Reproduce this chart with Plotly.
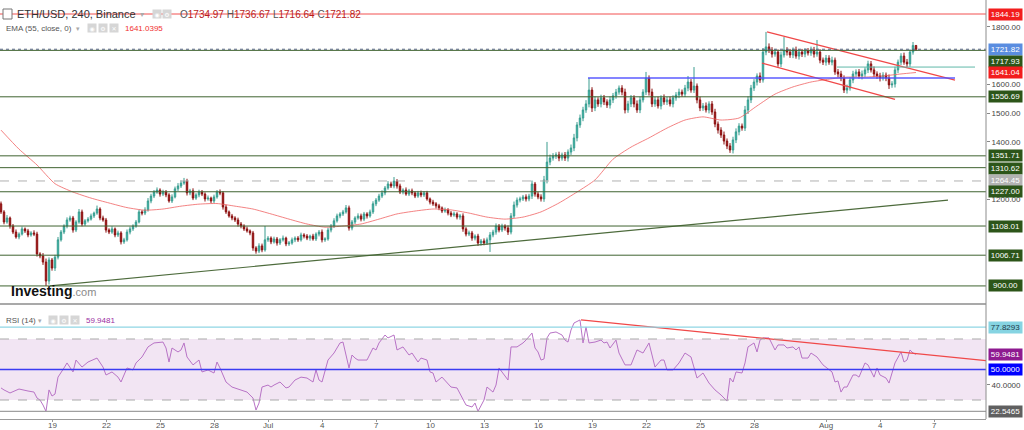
import pandas as pd
import plotly.graph_objects as go

# ---------------- data ----------------
candle_start = "2022-06-16 04:00"   # 4h candles
first_open = 1185.0
closes = [
    1157, 1122, 1136, 1108, 1087, 1070, 1080, 1098, 1091, 1077,
    1084, 1080, 1011, 1004, 983, 917, 990, 962, 1000, 1060,
    1087, 1108, 1129, 1136, 1094, 1122, 1157, 1115, 1126, 1132,
    1143, 1153, 1167, 1136, 1129, 1094, 1087, 1098, 1077, 1084,
    1053, 1060, 1087, 1098, 1108, 1122, 1157, 1153, 1164, 1195,
    1212, 1226, 1233, 1219, 1226, 1216, 1195, 1209, 1237, 1247,
    1257, 1264, 1223, 1230, 1205, 1216, 1226, 1219, 1202, 1205,
    1195, 1209, 1226, 1223, 1174, 1157, 1143, 1136, 1129, 1115,
    1108, 1098, 1091, 1084, 1032, 1021, 1039, 1025, 1060, 1066,
    1053, 1063, 1049, 1060, 1066, 1046, 1049, 1060, 1066, 1060,
    1077, 1073, 1066, 1073, 1063, 1080, 1087, 1060, 1063, 1094,
    1108, 1126, 1143, 1150, 1157, 1171, 1101, 1122, 1136, 1143,
    1132, 1150, 1143, 1157, 1185, 1198, 1212, 1223, 1240, 1254,
    1247, 1264, 1247, 1226, 1233, 1219, 1230, 1223, 1212, 1223,
    1216, 1223, 1202, 1191, 1185, 1178, 1171, 1160, 1164, 1153,
    1146, 1150, 1139, 1143, 1098, 1080, 1084, 1066, 1073, 1049,
    1056, 1049, 1060, 1077, 1087, 1108, 1094, 1108, 1101, 1087,
    1143, 1181, 1198, 1202, 1209, 1202, 1212, 1254, 1219, 1209,
    1202, 1268, 1330, 1344, 1351, 1355, 1344, 1355, 1344, 1365,
    1379, 1414, 1459, 1483, 1511, 1532, 1580, 1518, 1546, 1532,
    1553, 1539, 1528, 1546, 1560, 1573, 1587, 1573, 1511, 1532,
    1553, 1532, 1511, 1546, 1573, 1622, 1573, 1532, 1546, 1525,
    1553, 1539, 1546, 1532, 1553, 1563, 1573, 1566, 1587, 1608,
    1580, 1594, 1546, 1518, 1525, 1511, 1532, 1504, 1462, 1441,
    1424, 1403, 1386, 1372, 1407, 1435, 1455, 1448, 1511, 1546,
    1587, 1608, 1629, 1615, 1712, 1730, 1719, 1705, 1712, 1671,
    1702, 1719, 1712, 1702, 1719, 1698, 1712, 1705, 1716, 1709,
    1719, 1705, 1712, 1684, 1677, 1691, 1677, 1684, 1643, 1636,
    1622, 1580, 1587, 1615, 1636, 1643, 1629, 1636, 1650, 1671,
    1650, 1636, 1629, 1622, 1632, 1622, 1598, 1601, 1650, 1677,
    1698, 1677, 1671, 1712, 1734.97, 1721.82,
]
upper_wick = [
    8, 6, 10, 5, 7, 9, 6, 8, 5, 7,
    6, 9, 8, 6, 10, 12, 9, 7, 8, 10,
    7, 6, 9, 8, 7, 6, 10, 8, 6, 7,
    8, 5, 12, 6, 8, 7, 6, 9, 5, 8,
    6, 7, 9, 8, 6, 7, 8, 6, 9, 10,
    8, 7, 9, 6, 8, 7, 6, 9, 8, 10,
    9, 11, 8, 7, 9, 6, 8, 7, 6, 9,
    5, 8, 7, 9, 6, 8, 5, 7, 6, 8,
    7, 6, 8, 5, 7, 6, 9, 8, 48, 7,
    6, 8, 7, 6, 9, 5, 7, 8, 6, 7,
    8, 6, 7, 5, 8, 6, 7, 9, 6, 8,
    7, 9, 8, 6, 7, 10, 8, 7, 6, 9,
    8, 7, 6, 8, 9, 7, 8, 9, 7, 10,
    8, 14, 7, 8, 6, 9, 7, 8, 6, 7,
    8, 6, 7, 5, 8, 6, 7, 5, 8, 6,
    7, 8, 6, 7, 9, 6, 8, 7, 6, 8,
    7, 9, 8, 10, 8, 9, 7, 8, 6, 9,
    10, 12, 9, 8, 7, 9, 8, 12, 7, 8,
    9, 14, 70, 12, 10, 9, 11, 8, 10, 9,
    12, 14, 10, 12, 11, 13, 42, 10, 12, 9,
    11, 10, 9, 12, 10, 11, 9, 10, 12, 11,
    10, 9, 12, 11, 10, 21, 9, 12, 10, 11,
    9, 12, 10, 11, 9, 10, 12, 9, 11, 21,
    10, 66, 9, 11, 10, 12, 9, 10, 11, 9,
    10, 12, 9, 10, 11, 12, 10, 9, 14, 12,
    11, 10, 9, 12, 14, 52, 12, 10, 11, 9,
    12, 45, 10, 11, 9, 12, 10, 11, 9, 10,
    12, 11, 42, 10, 9, 11, 10, 12, 9, 10,
    11, 9, 12, 10, 11, 9, 10, 12, 9, 11,
    10, 12, 9, 11, 10, 9, 12, 10, 11, 9,
    10, 12, 11, 9, 12, 1.70,
]
lower_wick = [
    7, 8, 6, 9, 7, 6, 8, 5, 7, 8,
    6, 7, 9, 8, 10, 17, 12, 9, 10, 8,
    6, 7, 8, 6, 9, 7, 6, 8, 7, 6,
    5, 7, 6, 8, 6, 9, 7, 6, 8, 7,
    9, 7, 6, 8, 7, 6, 5, 8, 7, 6,
    8, 7, 6, 9, 7, 8, 6, 7, 5, 8,
    7, 6, 9, 8, 7, 6, 8, 7, 9, 6,
    8, 7, 6, 8, 9, 7, 6, 8, 7, 9,
    8, 7, 6, 8, 10, 9, 7, 8, 6, 7,
    8, 6, 9, 7, 6, 8, 7, 6, 8, 7,
    6, 8, 7, 9, 6, 7, 8, 9, 7, 6,
    8, 7, 6, 8, 7, 6, 9, 8, 7, 6,
    8, 7, 9, 6, 7, 8, 6, 7, 8, 6,
    7, 8, 9, 7, 8, 6, 7, 8, 7, 6,
    8, 7, 6, 8, 7, 9, 8, 7, 6, 8,
    7, 6, 8, 9, 10, 8, 7, 9, 8, 10,
    9, 8, 7, 42, 8, 9, 8, 7, 9, 10,
    8, 7, 9, 8, 7, 9, 8, 10, 9, 8,
    9, 10, 12, 11, 9, 10, 11, 9, 10, 12,
    10, 11, 12, 10, 11, 10, 12, 14, 11, 10,
    12, 11, 10, 12, 11, 10, 9, 11, 12, 10,
    11, 12, 10, 11, 9, 10, 12, 11, 10, 9,
    12, 10, 11, 9, 12, 10, 11, 9, 10, 11,
    9, 10, 12, 11, 10, 9, 12, 10, 11, 12,
    10, 12, 11, 10, 12, 11, 12, 9, 10, 14,
    11, 10, 12, 10, 9, 11, 10, 12, 9, 10,
    11, 9, 12, 10, 11, 9, 12, 10, 11, 9,
    10, 12, 9, 11, 10, 12, 9, 11, 10, 12,
    11, 10, 12, 9, 11, 10, 9, 12, 10, 11,
    9, 11, 10, 12, 9, 11, 14, 10, 12, 11,
    10, 9, 11, 10, 9, 5.18,
]

ema_idx = [0, 6, 12, 18, 24, 30, 36, 42, 48, 54, 60, 66, 72, 78, 84, 90, 96, 102,
           108, 114, 120, 126, 132, 138, 144, 150, 156, 162, 168, 174, 180, 186,
           192, 198, 204, 210, 216, 222, 228, 234, 240, 246, 252, 258, 264, 270,
           276, 282, 288, 294, 300, 305]
ema_val = [1441, 1375, 1320, 1255, 1226, 1205, 1188, 1172, 1163, 1167, 1177, 1184,
           1186, 1177, 1167, 1150, 1132, 1115, 1104, 1108, 1115, 1132, 1150, 1160,
           1167, 1164, 1153, 1139, 1132, 1139, 1157, 1188, 1226, 1268, 1340, 1382,
           1414, 1448, 1476, 1487, 1476, 1483, 1525, 1566, 1591, 1608, 1618, 1625,
           1625, 1629, 1636, 1641.04]

rsi_idx = [0, 1, 3, 5, 6, 9, 11, 12, 13, 14, 15, 16, 17, 18, 19, 21, 22, 24, 25, 27,
           29, 32, 34, 35, 37, 39, 40, 42, 44, 45, 47, 49, 51, 54, 55, 56, 57, 59, 60, 61,
           62, 64, 66, 67, 69, 71, 72, 73, 75, 77, 80, 82, 84, 85, 86, 87, 89, 90, 91, 93,
           95, 96, 98, 100, 102, 104, 105, 106, 107, 109, 111, 113, 114, 116, 117, 118, 119, 122, 124, 125,
           126, 128, 129, 131, 132, 134, 136, 137, 139, 140, 142, 143, 144, 145, 147, 150, 152, 154, 155, 157,
           158, 159, 161, 162, 164, 165, 166, 169, 170, 172, 174, 175, 177, 178, 179, 180, 181, 182, 183, 185,
           187, 188, 189, 190, 191, 193, 194, 195, 196, 198, 200, 201, 202, 203, 205, 206, 208, 210, 212, 214,
           216, 218, 220, 221, 222, 224, 226, 228, 230, 232, 234, 236, 238, 240, 242, 243, 244, 245, 247, 248,
           249, 251, 252, 253, 254, 256, 258, 259, 261, 262, 264, 265, 266, 267, 269, 270, 272, 274, 275, 277,
           278, 279, 280, 281, 282, 284, 285, 286, 288, 289, 291, 292, 293, 295, 296, 298, 300, 301, 302, 303,
           304, 305]
rsi_val = [37.9, 36.6, 34.6, 36.6, 37.2, 35.9, 35.2, 31.3, 30.0, 26.7, 22.5465, 36.6, 32.6, 33.9, 45.0, 51.0, 54.3, 48.4, 56.2, 51.6,
           54.9, 57.5, 51.6, 46.4, 48.4, 45.0, 41.8, 51.0, 49.7, 54.3, 58.2, 64.8, 67.4, 68.0, 64.1, 54.9, 64.1, 61.5, 62.8, 67.4,
           58.2, 53.0, 56.2, 48.4, 49.7, 47.7, 54.9, 51.0, 41.8, 38.5, 36.6, 35.2, 31.3, 23.4, 28.0, 38.5, 39.8, 38.5, 39.8, 41.8,
           37.9, 38.5, 43.1, 45.0, 44.4, 41.8, 49.7, 43.1, 41.8, 56.2, 60.8, 67.4, 68.0, 51.0, 59.5, 57.5, 56.2, 56.2, 64.1, 62.8,
           67.4, 72.6, 70.7, 72.6, 62.8, 64.8, 59.5, 60.8, 54.9, 57.5, 56.2, 48.4, 47.7, 41.8, 45.0, 38.5, 37.9, 30.0, 26.7, 25.4,
           28.0, 22.5465, 30.0, 38.5, 35.2, 39.8, 51.0, 43.1, 64.8, 64.8, 67.4, 69.3, 73.9, 64.1, 61.5, 56.2, 56.9, 70.7, 73.9, 74.6,
           72.6, 69.3, 68.0, 75.9, 80.5, 82.5, 67.4, 77.9, 67.4, 68.0, 69.3, 67.4, 68.0, 64.1, 69.3, 60.8, 53.0, 53.0, 62.8, 60.8,
           67.4, 51.6, 56.2, 56.2, 49.7, 49.7, 54.3, 60.8, 58.2, 44.4, 47.7, 41.1, 36.6, 33.3, 29.3, 44.4, 41.8, 48.4, 47.7, 54.3,
           64.8, 67.4, 61.5, 69.3, 70.7, 70.7, 62.8, 66.1, 66.1, 64.1, 64.8, 62.8, 64.8, 57.5, 57.5, 60.8, 58.2, 53.0, 51.6, 48.4,
           41.8, 42.5, 35.2, 38.5, 38.5, 46.4, 46.4, 45.0, 54.3, 53.0, 45.0, 51.0, 46.4, 44.4, 41.1, 54.3, 61.5, 54.9, 56.2, 62.8,
           60.8, 59.9481]

green_levels = [1717.93, 1556.69, 1351.71, 1310.62, 1227.00, 1108.01, 1006.71, 900.00]
red_level = 1844.19
gray_level = 1264.45
last_price = 1721.82
ema_last = 1641.04
rsi_cyan_level = 77.8293
rsi_min_level = 22.5465
rsi_last = 59.9481

trend_green_t = ["2022-06-18 21:20", "2022-08-07 18:40"]
trend_green_p = [900, 1198]
chan_upper_t = ["2022-07-28 17:20", "2022-08-08 04:00"]
chan_upper_p = [1782, 1615]
chan_lower_t = ["2022-07-28 10:40", "2022-08-04 20:00"]
chan_lower_p = [1674, 1548]
blue_t = ["2022-07-18 18:40", "2022-08-08 04:00"]
blue_p = [1622, 1622]
teal_t = ["2022-08-01 14:40", "2022-08-09 06:40"]
teal_p = [1660, 1660]
rsi_trend_t = ["2022-07-18 09:20", "2022-08-09 21:20"]
rsi_trend_v = [82.5, 55.8]

tick_dates = ["2022-06-19", "2022-06-22", "2022-06-25", "2022-06-28", "2022-07-01",
              "2022-07-04", "2022-07-07", "2022-07-10", "2022-07-13", "2022-07-16",
              "2022-07-19", "2022-07-22", "2022-07-25", "2022-07-28", "2022-08-01",
              "2022-08-04", "2022-08-07"]
tick_text = ["19", "22", "25", "28", "Jul", "4", "7", "10", "13", "16", "19", "22",
             "25", "28", "Aug", "4", "7"]
price_ticks = [1200, 1400, 1500, 1600, 1800]
rsi_ticks = [40]

# ---------------- build ----------------
times = pd.date_range(candle_start, periods=len(closes), freq="4h")
opens = [first_open] + closes[:-1]
highs = [max(o, c) + u for o, c, u in zip(opens, closes, upper_wick)]
lows = [min(o, c) - l for o, c, l in zip(opens, closes, lower_wick)]

X0 = pd.Timestamp("2022-06-16 02:40")
X1 = pd.Timestamp("2022-08-09 21:20")
PW, PH = 986.0, 419.0
SPLIT = (PH - 304) / PH


def px(xp):
    return xp / PW


def py(yp):
    return (PH - yp) / PH


FONT = "Liberation Sans, Arial, sans-serif"
GREEN = "#3f6330"
LBL_GREEN = "#2c5519"

fig = go.Figure()
fig.add_trace(go.Candlestick(
    x=times, open=opens, high=highs, low=lows, close=closes,
    xaxis="x", yaxis="y", whiskerwidth=0, showlegend=False, hoverinfo="skip",
    increasing=dict(line=dict(color="#3a9c8f", width=1), fillcolor="#2cc8b8"),
    decreasing=dict(line=dict(color="#8a1010", width=1), fillcolor="#b01515"),
))
fig.add_trace(go.Scatter(
    x=times[ema_idx], y=ema_val, mode="lines", xaxis="x", yaxis="y",
    line=dict(color="rgba(240,100,100,0.8)", width=1, shape="spline", smoothing=0.6),
    showlegend=False, hoverinfo="skip"))

for tt, pp, col, w in [
    (trend_green_t, trend_green_p, "#4d6b3c", 1.2),
    (chan_upper_t, chan_upper_p, "#f04848", 1.3),
    (chan_lower_t, chan_lower_p, "#f04848", 1.3),
    (blue_t, blue_p, "rgba(80,80,255,0.7)", 1.8),
    (teal_t, teal_p, "#5fb8a8", 1),
]:
    fig.add_trace(go.Scatter(x=tt, y=pp, mode="lines", xaxis="x", yaxis="y",
                             line=dict(color=col, width=w), showlegend=False, hoverinfo="skip"))

fig.add_trace(go.Scatter(
    x=times[rsi_idx], y=rsi_val, mode="lines", xaxis="x2", yaxis="y2",
    line=dict(color="#b873c6", width=1), showlegend=False, hoverinfo="skip"))
fig.add_trace(go.Scatter(
    x=rsi_trend_t, y=rsi_trend_v, mode="lines", xaxis="x2", yaxis="y2",
    line=dict(color="#f04848", width=1.3), showlegend=False, hoverinfo="skip"))

shapes = []
# RSI band
shapes.append(dict(type="rect", xref="paper", x0=0, x1=1, yref="y2", y0=30, y1=70,
                   fillcolor="#f2e5f3", line=dict(width=0), layer="below"))
for v in (70, 30):
    shapes.append(dict(type="line", xref="paper", x0=0, x1=1, yref="y2", y0=v, y1=v,
                       line=dict(color="#a9a9a9", width=1, dash="dash"), layer="above"))
shapes.append(dict(type="line", xref="paper", x0=0, x1=1, yref="y2", y0=50, y1=50,
                   line=dict(color="#3b3bf2", width=1.3), layer="above"))
shapes.append(dict(type="line", xref="paper", x0=0, x1=1, yref="y2", y0=rsi_cyan_level, y1=rsi_cyan_level,
                   line=dict(color="#8fd6e4", width=1.2), layer="above"))
shapes.append(dict(type="line", xref="paper", x0=0, x1=1, yref="y2", y0=rsi_min_level, y1=rsi_min_level,
                   line=dict(color="#a0a0a0", width=1.2), layer="above"))
# price levels
for v in green_levels:
    shapes.append(dict(type="line", xref="paper", x0=0, x1=1, yref="y", y0=v, y1=v,
                       line=dict(color=GREEN, width=1), layer="above"))
shapes.append(dict(type="line", xref="paper", x0=0, x1=1, yref="y", y0=gray_level, y1=gray_level,
                   line=dict(color="#b0b0b0", width=1, dash="dash"), layer="above"))
shapes.append(dict(type="line", xref="paper", x0=0, x1=1, yref="y", y0=red_level, y1=red_level,
                   line=dict(color="#f25050", width=1), layer="above"))
shapes.append(dict(type="line", xref="paper", x0=0, x1=1, yref="y", y0=last_price, y1=last_price,
                   line=dict(color="#54627e", width=1, dash="dot"), layer="above"))
# pane separators
shapes.append(dict(type="line", xref="paper", x0=0, x1=1, yref="paper", y0=SPLIT, y1=SPLIT,
                   line=dict(color="#8c8c8c", width=1.5), layer="above"))
shapes.append(dict(type="line", xref="paper", x0=1, x1=1, yref="paper", y0=0, y1=1,
                   line=dict(color="#8c8c8c", width=1), layer="above"))
# legend checkbox
shapes.append(dict(type="rect", xref="paper", yref="paper", x0=px(3), x1=px(12), y0=py(19), y1=py(9),
                   line=dict(color="#777", width=1), fillcolor="white", layer="above"))

ann = []


def text(xp, yp, s, size, color):
    ann.append(dict(xref="paper", yref="paper", x=px(xp), y=py(yp), text=s, showarrow=False,
                    xanchor="left", yanchor="middle",
                    font=dict(family=FONT, size=size, color=color)))


def icon(xp, yp, glyph):
    ann.append(dict(xref="paper", yref="paper", x=px(xp), y=py(yp), text=glyph, showarrow=False,
                    xanchor="left", yanchor="middle", width=8, height=8, bgcolor="#d6d6d6",
                    borderpad=0, font=dict(family="DejaVu Sans", size=6, color="white")))


text(15, 14, "ETH/USD, 240, Binance", 11, "#333333")
text(138, 15, "▾", 8, "#aaaaaa")
icon(152, 14, "◉")
icon(162, 14, "⚙")
text(178, 14, "<span style='color:#555'>O</span>1734.97 <span style='color:#555'>H</span>1736.67 "
              "<span style='color:#555'>L</span>1716.64 <span style='color:#555'>C</span>1721.82",
     10, "#b71c1c")
text(4, 28, "EMA (55, close, 0)", 8, "#555555")
text(74, 28, "▾", 7, "#aaaaaa")
icon(87, 28, "◉")
icon(98, 28, "⚙")
icon(109, 28, "✕")
text(123, 28, "1641.0395", 8, "#f03030")
text(4, 320, "RSI (14)", 8, "#555555")
text(36, 320, "▾", 7, "#aaaaaa")
icon(48, 320, "◉")
icon(59, 320, "⚙")
icon(70, 320, "✕")
text(84, 320, "59.9481", 8, "#9b2fa3")
ann.append(dict(xref="paper", yref="paper", x=px(9), y=py(291), showarrow=False,
                xanchor="left", yanchor="middle",
                text="<b>Investing</b><span style='color:#8a8a8a;font-size:11px'>.com</span>",
                font=dict(family=FONT, size=14, color="#111111")))

# date labels under the axis (placed as annotations so they sit right below the axis line)
for d, t in zip(tick_dates, tick_text):
    ann.append(dict(xref="x2", yref="paper", x=d, y=0, yanchor="top", xanchor="center",
                    yshift=-1, showarrow=False, text=t, borderpad=0,
                    font=dict(family=FONT, size=8, color="#555555")))

# right-hand price / value labels
labels = [
    (red_level, "y", 0, "#f21d1d", "white", "%.2f"),
    (last_price, "y", 0, "#5a8de0", "white", "%.2f"),
    (green_levels[0], "y", -11, LBL_GREEN, "white", "%.2f"),
    (ema_last, "y", 0, "#f21d1d", "white", "%.2f"),
    (green_levels[1], "y", 0, LBL_GREEN, "white", "%.2f"),
    (green_levels[2], "y", 0, LBL_GREEN, "white", "%.2f"),
    (green_levels[3], "y", -1, LBL_GREEN, "white", "%.2f"),
    (gray_level, "y", 0, "#b3b3b3", "white", "%.2f"),
    (green_levels[4], "y", 0, LBL_GREEN, "white", "%.2f"),
    (green_levels[5], "y", 0, LBL_GREEN, "white", "%.2f"),
    (green_levels[6], "y", 0, LBL_GREEN, "white", "%.2f"),
    (green_levels[7], "y", 0, LBL_GREEN, "white", "%.2f"),
    (rsi_cyan_level, "y2", 0, "#86d4e2", "#1d3a48", "%.4f"),
    (rsi_last, "y2", 0, "#8e1a90", "white", "%.4f"),
    (50.0, "y2", 0, "#0000ff", "white", "%.4f"),
    (rsi_min_level, "y2", 0, "#606060", "white", "%.4f"),
]
for v, yr, ys, bg, fg, fmt in labels:
    ann.append(dict(xref="paper", yref=yr, x=1, y=v, xanchor="left", yanchor="middle",
                    xshift=2, yshift=ys, showarrow=False, text=fmt % v, bgcolor=bg,
                    width=33, height=11, borderpad=0, align="center",
                    font=dict(family=FONT, size=8, color=fg)))

fig.update_layout(
    width=1024, height=430,
    margin=dict(l=0, r=38, t=0, b=11, autoexpand=False),
    paper_bgcolor="white", plot_bgcolor="white",
    font=dict(family=FONT, size=8, color="#444"),
    showlegend=False,
    xaxis=dict(domain=[0, 1], anchor="y", type="date", range=[X0, X1], showticklabels=False,
               showgrid=False, zeroline=False, ticks="", automargin=False,
               rangeslider=dict(visible=False)),
    xaxis2=dict(domain=[0, 1], anchor="y2", type="date", range=[X0, X1], matches="x",
                tickvals=tick_dates, showticklabels=False, ticks="outside", ticklen=2,
                tickcolor="#999",
                showline=True, linecolor="#9a9a9a", linewidth=1, showgrid=False, zeroline=False,
                automargin=False, rangeslider=dict(visible=False)),
    yaxis=dict(domain=[SPLIT, 1], anchor="x", side="right", range=[837.25, 1892.8],
               tickvals=price_ticks, ticktext=["%.2f" % v for v in price_ticks],
               ticks="outside", ticklen=3, tickcolor="#888", automargin=False,
               tickfont=dict(family=FONT, size=8, color="#444"),
               showgrid=False, zeroline=False),
    yaxis2=dict(domain=[0, SPLIT], anchor="x2", side="right", range=[17.54, 92.95],
                tickvals=rsi_ticks, ticktext=["%.4f" % v for v in rsi_ticks],
                ticks="outside", ticklen=3, tickcolor="#888", automargin=False,
                tickfont=dict(family=FONT, size=8, color="#444"),
                showgrid=False, zeroline=False),
    shapes=shapes,
    annotations=ann,
)

fig.write_html("out.html")
